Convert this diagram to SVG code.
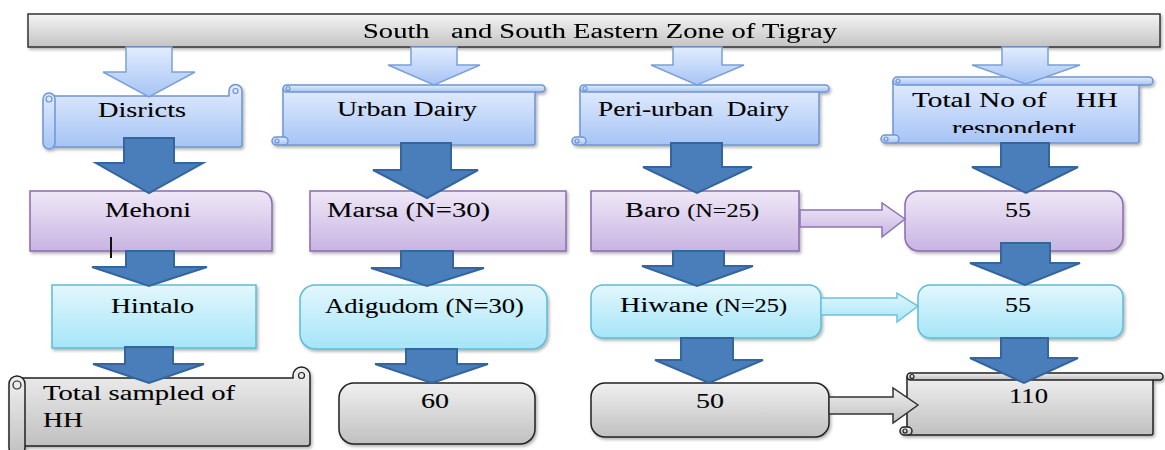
<svg xmlns="http://www.w3.org/2000/svg" width="1165" height="450" viewBox="0 0 1165 450">
<defs>
<linearGradient id="gBar" x1="0" y1="0" x2="0" y2="1"><stop offset="0" stop-color="#f5f5f5"/><stop offset="1" stop-color="#c3c3c3"/></linearGradient>
<linearGradient id="gBlue" x1="0" y1="0" x2="0" y2="1"><stop offset="0" stop-color="#e2ecfd"/><stop offset="1" stop-color="#a6c4f5"/></linearGradient>
<linearGradient id="gPurple" x1="0" y1="0" x2="0" y2="1"><stop offset="0" stop-color="#efe8f7"/><stop offset="1" stop-color="#c8b4e2"/></linearGradient>
<linearGradient id="gCyan" x1="0" y1="0" x2="0" y2="1"><stop offset="0" stop-color="#e3f7fd"/><stop offset="1" stop-color="#a5e5f8"/></linearGradient>
<linearGradient id="gGray" x1="0" y1="0" x2="0" y2="1"><stop offset="0" stop-color="#f0f0f0"/><stop offset="1" stop-color="#c0c0c0"/></linearGradient>
<filter id="sh" x="-10%" y="-10%" width="120%" height="130%"><feDropShadow dx="1.5" dy="2" stdDeviation="1.5" flood-color="#000" flood-opacity="0.3"/></filter>
<clipPath id="clipResp"><rect x="880" y="70" width="280" height="63"/></clipPath>
<style>
.t{font-family:'Liberation Serif',serif;font-size:21px;fill:#000;stroke:#000;stroke-width:0.1}
.blue{fill:url(#gBlue);stroke:#6d95d3;stroke-width:1.5}
.purple{fill:url(#gPurple);stroke:#8a6bb0;stroke-width:1.5}
.cyan{fill:url(#gCyan);stroke:#5cbcd8;stroke-width:1.5}
.gray{fill:url(#gGray);stroke:#222;stroke-width:1.5}
.bar{fill:url(#gBar);stroke:#333;stroke-width:1.5}
.curl{fill:none;stroke-width:1.2}
.dark{fill:#4a7ebb;stroke:#34659e;stroke-width:2}
.larrow{fill:url(#gBlue);stroke:#7aa0d8;stroke-width:1.5}
.parrow{fill:url(#gPurple);stroke:#8f72b5;stroke-width:1.5}
.carrow{fill:url(#gCyan);stroke:#6ac3dd;stroke-width:1.5}
.garrow{fill:url(#gGray);stroke:#333;stroke-width:1.5}
</style>
</defs>
<rect width="1165" height="450" fill="#ffffff"/>

<g id="zone" filter="url(#sh)">
<rect class="bar" x="28" y="14" width="1132" height="33"/>
<text class="t" x="363" y="38" textLength="474" lengthAdjust="spacingAndGlyphs" xml:space="preserve">South   and South Eastern Zone of Tigray</text>
</g>

<g id="districts">
<g filter="url(#sh)">
<path class="blue" d="M49 96 L229 96 L229 91 A6.5 6.5 0 0 1 242 91 L242 145 Q242 147 240 147 L49 147 Z"/>
<rect class="blue" x="43" y="93" width="12" height="56" rx="6"/>
</g>
<circle class="curl" cx="49" cy="99" r="3" stroke="#6d95d3"/>
<circle class="curl" cx="235.5" cy="91" r="2.5" stroke="#6d95d3"/>
<text class="t" x="98" y="117" textLength="88" lengthAdjust="spacingAndGlyphs">Disricts</text>
</g>

<g id="urban">
<g filter="url(#sh)">
<rect class="blue" x="283" y="88" width="252" height="57" rx="2"/>
<rect class="blue" x="283" y="85" width="262" height="7" rx="3.5"/>
<rect class="blue" x="272" y="137" width="16" height="8" rx="4"/>
</g>
<circle class="curl" cx="288" cy="88.5" r="2" stroke="#6d95d3"/>
<circle class="curl" cx="277" cy="141" r="2" stroke="#6d95d3"/>
<text class="t" x="337" y="116" textLength="140" lengthAdjust="spacingAndGlyphs">Urban Dairy</text>
</g>

<g id="periurban">
<g filter="url(#sh)">
<rect class="blue" x="580" y="88" width="239" height="57" rx="2"/>
<rect class="blue" x="580" y="85" width="249" height="7" rx="3.5"/>
<rect class="blue" x="572" y="137" width="14" height="8" rx="4"/>
</g>
<circle class="curl" cx="585" cy="88.5" r="2" stroke="#6d95d3"/>
<circle class="curl" cx="577" cy="141" r="2" stroke="#6d95d3"/>
<text class="t" x="598" y="116" textLength="191" lengthAdjust="spacingAndGlyphs" xml:space="preserve">Peri-urban  Dairy</text>
</g>

<g id="totalno">
<g filter="url(#sh)">
<rect class="blue" x="893" y="80" width="246" height="63" rx="2"/>
<rect class="blue" x="893" y="77" width="260" height="8" rx="4"/>
<rect class="blue" x="881" y="135" width="18" height="8" rx="4"/>
</g>
<circle class="curl" cx="898" cy="81" r="2" stroke="#6d95d3"/>
<circle class="curl" cx="886" cy="139" r="2" stroke="#6d95d3"/>
<text class="t" x="912" y="107" textLength="206" lengthAdjust="spacingAndGlyphs" xml:space="preserve">Total No of    HH</text>
<text class="t" x="952" y="135" textLength="124" lengthAdjust="spacingAndGlyphs" clip-path="url(#clipResp)">respondent</text>
</g>

<g id="mehoni">
<path class="purple" filter="url(#sh)" d="M30 191 L258 191 Q272 191 272 205 L272 251 L30 251 Z"/>
<text class="t" x="105" y="217" textLength="86" lengthAdjust="spacingAndGlyphs">Mehoni</text>
<line x1="111" y1="237" x2="111" y2="258" stroke="#111" stroke-width="2"/>
</g>

<g id="marsa">
<rect class="purple" filter="url(#sh)" x="310" y="191" width="256" height="60"/>
<text class="t" x="327" y="217" textLength="163" lengthAdjust="spacingAndGlyphs">Marsa (N=30)</text>
</g>

<g id="baro">
<rect class="purple" filter="url(#sh)" x="591" y="191" width="208" height="60"/>
<text class="t" x="625" y="217" textLength="134" lengthAdjust="spacingAndGlyphs">Baro <tspan font-size="18">(N=25)</tspan></text>
</g>

<g id="total55a">
<rect class="purple" filter="url(#sh)" x="905" y="191" width="218" height="60" rx="14"/>
<text class="t" x="1005" y="217" textLength="26" lengthAdjust="spacingAndGlyphs">55</text>
</g>

<g id="hintalo">
<rect class="cyan" filter="url(#sh)" x="52" y="285" width="204" height="63"/>
<text class="t" x="111" y="313" textLength="83" lengthAdjust="spacingAndGlyphs">Hintalo</text>
</g>

<g id="adigudom">
<rect class="cyan" filter="url(#sh)" x="300" y="285" width="247" height="64" rx="15"/>
<text class="t" x="325" y="313" textLength="199" lengthAdjust="spacingAndGlyphs">Adigudom (N=30)</text>
</g>

<g id="hiwane">
<rect class="cyan" filter="url(#sh)" x="591" y="285" width="230" height="53" rx="12"/>
<text class="t" x="620" y="312" textLength="167" lengthAdjust="spacingAndGlyphs">Hiwane <tspan font-size="18">(N=25)</tspan></text>
</g>

<g id="total55b">
<rect class="cyan" filter="url(#sh)" x="918" y="285" width="205" height="53" rx="12"/>
<text class="t" x="1005" y="312" textLength="26" lengthAdjust="spacingAndGlyphs">55</text>
</g>

<g id="totalsampled">
<g filter="url(#sh)">
<path class="gray" d="M17 378 L293 378 L293 375.5 A8.5 8.5 0 0 1 310 375.5 L310 443 Q310 446 307 446 L17 446 Z"/>
<rect class="gray" x="9" y="376" width="16" height="80" rx="8"/>
</g>
<circle class="curl" cx="17" cy="385" r="4" stroke="#222"/>
<circle class="curl" cx="301.5" cy="375.5" r="3" stroke="#222"/>
<text class="t" x="43" y="400" textLength="192" lengthAdjust="spacingAndGlyphs">Total sampled of</text>
<text class="t" x="43" y="427" textLength="40" lengthAdjust="spacingAndGlyphs">HH</text>
</g>

<g id="sixty">
<rect class="gray" filter="url(#sh)" x="339" y="383" width="196" height="61" rx="15"/>
<text class="t" x="421" y="408" textLength="28" lengthAdjust="spacingAndGlyphs">60</text>
</g>

<g id="fifty">
<rect class="gray" filter="url(#sh)" x="591" y="383" width="238" height="54" rx="14"/>
<text class="t" x="696" y="408" textLength="28" lengthAdjust="spacingAndGlyphs">50</text>
</g>

<g id="total110">
<g filter="url(#sh)">
<rect class="gray" x="907" y="376" width="246" height="59" rx="2"/>
<rect class="gray" x="907" y="373" width="256" height="7" rx="3.5"/>
<rect class="gray" x="900" y="427" width="12" height="8" rx="4"/>
</g>
<circle class="curl" cx="912" cy="376.5" r="2" stroke="#222"/>
<circle class="curl" cx="905" cy="431" r="2" stroke="#222"/>
<text class="t" x="1009" y="403" textLength="39" lengthAdjust="spacingAndGlyphs">110</text>
</g>

<g id="connectors">
<polygon class="larrow" points="126,47 172,47 172,72 195,72 149,97 103,72 126,72"/>
<polygon class="larrow" points="411,47 457,47 457,65 480,65 434,85 388,65 411,65"/>
<polygon class="larrow" points="673,47 722,47 722,65 744,65 697,85 651,65 673,65"/>
<polygon class="larrow" points="1002,47 1048,47 1048,65 1080,65 1026,84 972,65 1002,65"/>

<polygon class="dark" points="124,138 174,138 174,163 203,163 149,193 96,163 124,163"/>
<polygon class="dark" points="126,251 174,251 174,267 207,267 149,286 92,267 126,267"/>
<polygon class="dark" points="125,347 173,347 173,364 204,364 149,383 93,364 125,364"/>

<polygon class="dark" points="401,143 451,143 451,170 478,170 427,198 373,170 401,170"/>
<polygon class="dark" points="401,251 453,251 453,268 484,268 427,286 371,268 401,268"/>
<polygon class="dark" points="406,349 457,349 457,364 488,364 432,383 375,364 406,364"/>

<polygon class="dark" points="671,143 722,143 722,167 752,167 697,193 643,167 671,167"/>
<polygon class="dark" points="673,251 724,251 724,266 753,266 697,286 642,266 673,266"/>
<polygon class="dark" points="681,338 733,338 733,360 763,360 709,383 655,360 681,360"/>

<polygon class="dark" points="1001,143 1049,143 1049,167 1078,167 1026,193 972,167 1001,167"/>
<polygon class="dark" points="1001,243 1050,243 1050,263 1080,263 1025,285 970,263 1001,263"/>
<polygon class="dark" points="1001,338 1048,338 1048,358 1078,358 1024,383 970,358 1001,358"/>

<polygon class="parrow" points="800,210 882,210 882,203 905,219 882,237 882,227 800,227"/>
<polygon class="carrow" points="821,298 897,298 897,293 918,306 897,322 897,315 821,315"/>
<polygon class="garrow" points="829,397 893,397 893,388 918,405 893,423 893,414 829,414"/>
</g>
</svg>
